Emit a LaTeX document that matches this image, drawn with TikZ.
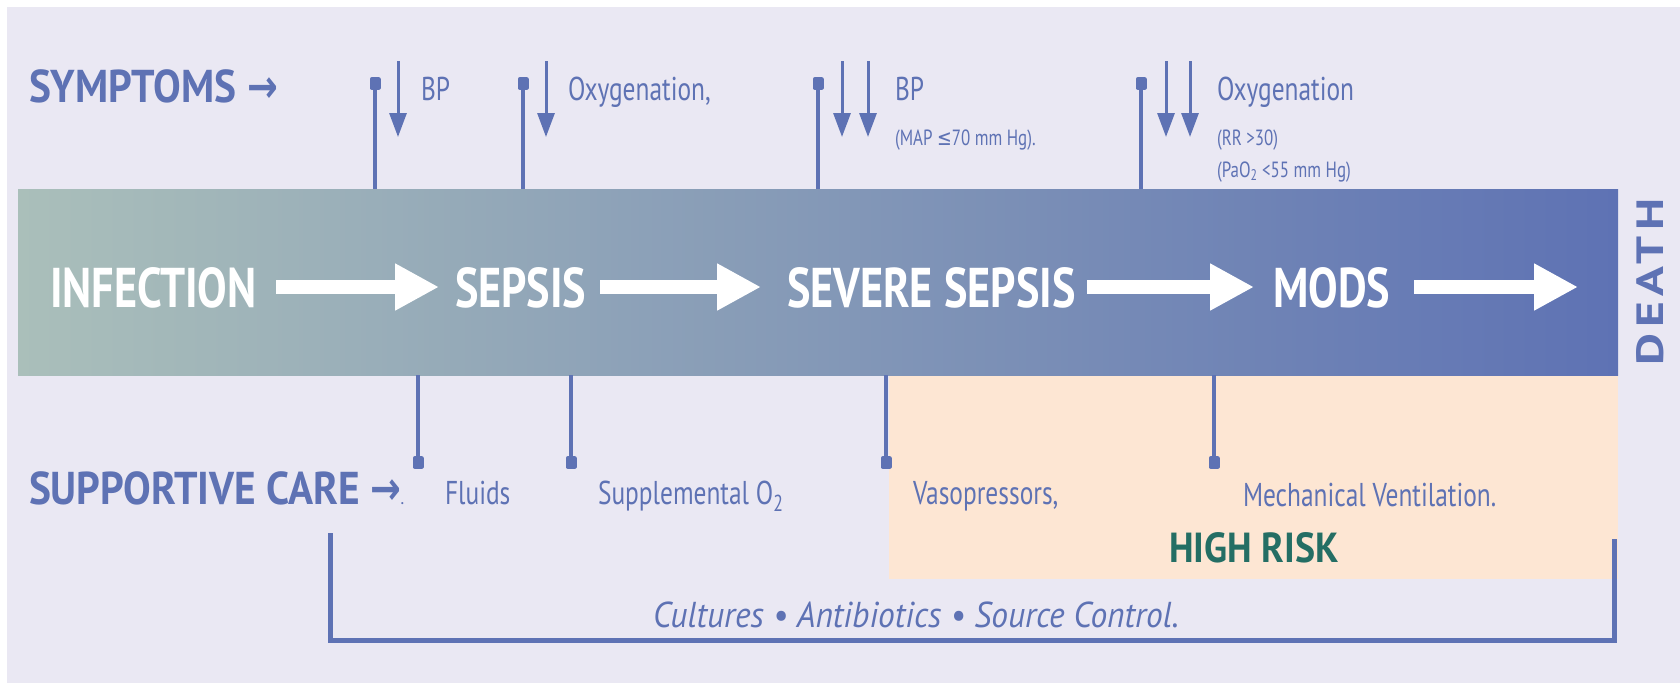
\documentclass[tikz,border=0pt]{standalone}
\usepackage{fontspec}
\usetikzlibrary{positioning, arrows.meta, calc}
\setmainfont{PT Sans}
\newfontfamily\stagefont{PT Sans}[FakeStretch=0.79]
\newfontfamily\condfont{PT Sans}[FakeStretch=0.77]
\newfontfamily\italfont{PT Sans}[FakeStretch=0.93]
\newfontfamily\headfont{PT Sans}[FakeStretch=0.9]
\newfontfamily\deathfont{PT Sans}[FakeStretch=1.3, LetterSpace=15]
\newfontfamily\symfont{DejaVu Sans}[FakeStretch=0.8]
\definecolor{sepblue}{RGB}{94, 114, 180}
\definecolor{sepgrey}{RGB}{170, 191, 186}
\definecolor{sepback}{RGB}{234, 232, 243}
\definecolor{seppeach}{RGB}{253, 230, 211}
\definecolor{septeal}{RGB}{36, 110, 100}

\begin{document}
\begin{tikzpicture}[x=1pt, y=-1pt,
    every node/.style={inner sep=0pt, outer sep=0pt},
    headlabel/.style={font=\headfont\bfseries\fontsize{46}{46}\selectfont, text=sepblue, anchor=base west},
    stagelabel/.style={font=\stagefont\bfseries\fontsize{56}{56}\selectfont, text=white, anchor=base west},
    signlabel/.style={font=\condfont\fontsize{33}{33}\selectfont, text=sepblue, anchor=base west},
    smalllabel/.style={font=\condfont\fontsize{22}{22}\selectfont, text=sepblue, anchor=base west},
    stemline/.style={draw=sepblue, line width=4.5pt, -{Rectangle[round, length=13pt, width=11pt]}},
    downarrow/.style={draw=sepblue, line width=3pt, -{Triangle[width=17pt, length=24pt]}},
    stagearrow/.style={draw=white, line width=14pt, -{Triangle[width=44pt, length=44pt]}},
  ]
    % background
    \fill[white] (0,0) rectangle (1680,683);
    \fill[sepback] (7,7) rectangle (1680,683);
    \fill[seppeach] (889,375) rectangle (1618,579);

    % progression band
    \node[minimum width=1600pt, minimum height=186pt, left color=sepgrey, right color=sepblue,
      anchor=north west] (band) at (18,189) {};

    \node[stagelabel] (infection) at (50,307) {INFECTION};
    \node[stagelabel] (sepsis) at (455,307) {SEPSIS};
    \node[stagelabel] (severe) at (787,307) {SEVERE SEPSIS};
    \node[stagelabel] (mods) at (1273,307) {MODS};
    \node[font=\deathfont\bfseries\fontsize{38}{38}\selectfont, text=sepblue, rotate=90] (death) at (1650,282) {DEATH};
    \coordinate (deathin) at (1578,287);

    \draw[stagearrow] (276,287) -- (439,287);
    \draw[stagearrow] (600,287) -- (761,287);
    \draw[stagearrow] (1087,287) -- (1254,287);
    \draw[stagearrow] (1414,287) -- (deathin);

    % symptoms
    \node[headlabel] (symptoms) at (29,102) {SYMPTOMS {\symfont\bfseries →}};
    \coordinate (s1) at (375,77);
    \coordinate (s2) at (523,77);
    \coordinate (s3) at (818,77);
    \coordinate (s4) at (1141,77);
    \foreach \s in {s1,s2,s3,s4}
      \draw[stemline] (\s |- band.north) -- (\s);
    \foreach \x in {398,546,842,868,1166,1190}
      \draw[downarrow] (\x,61) -- (\x,137);

    \node[signlabel] (bp1) at (421,100) {BP};
    \node[signlabel] (oxy1) at (568,100) {Oxygenation,};
    \node[signlabel] (bp2) at (895,100) {BP};
    \node[smalllabel] (map) at (895,145) {(MAP {\symfont ≤}70 mm Hg).};
    \node[signlabel] (oxy2) at (1217,100) {Oxygenation};
    \node[smalllabel] (rr) at (1217,145) {(RR >30)};
    \node[smalllabel] (pao) at (1217,177) {(PaO\textsubscript{2} <55 mm Hg)};

    % supportive care
    \node[headlabel] (support) at (29,504) {SUPPORTIVE CARE {\symfont\bfseries →}{\fontsize{14}{14}\selectfont.}};
    \coordinate (c1) at (418,469);
    \coordinate (c2) at (571,469);
    \coordinate (c3) at (886,469);
    \coordinate (c4) at (1214,469);
    \foreach \c in {c1,c2,c3,c4}
      \draw[stemline] (\c |- band.south) -- (\c);

    \node[signlabel] (fluids) at (445,504) {Fluids};
    \node[signlabel] (oxygen) at (598,504) {Supplemental O\textsubscript{2}};
    \node[signlabel] (vaso) at (913,504) {Vasopressors,};
    \node[signlabel] (vent) at (1243,506) {Mechanical Ventilation.};
    \node[font=\headfont\bfseries\fontsize{42}{42}\selectfont, text=septeal] (risk) at (1254,548) {HIGH RISK};

    % antimicrobial bracket
    \coordinate (bl) at (330,533);
    \coordinate (br) at (1614,539);
    \draw[sepblue, line width=5pt] (bl) -- (bl |- 0,640) -- (br |- 0,640) -- (br);
    \node[font=\italfont\itshape\fontsize{36}{36}\selectfont, text=sepblue, anchor=base] (cultures) at (916,627)
      {Cultures • Antibiotics • Source Control.};
\end{tikzpicture}
\end{document}
